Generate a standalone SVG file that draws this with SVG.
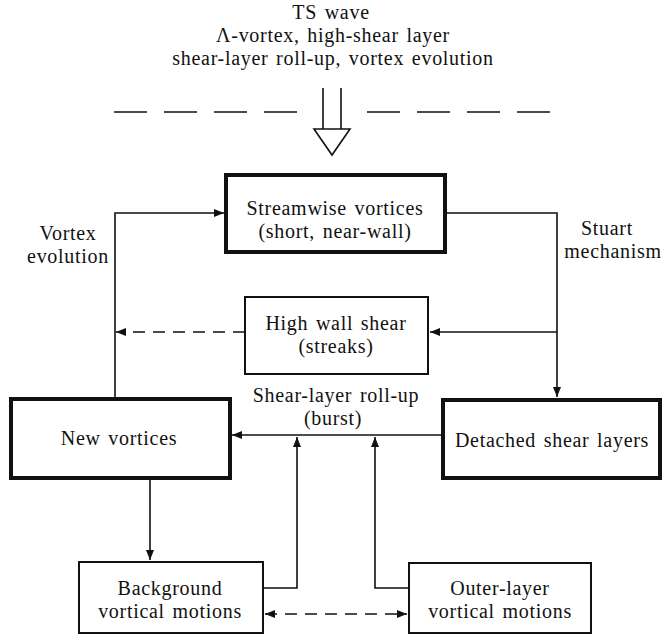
<svg xmlns="http://www.w3.org/2000/svg" width="664" height="641" viewBox="0 0 664 641">
<style>
text{font-family:"Liberation Serif","Times New Roman",serif;font-size:20px;letter-spacing:0.7px;word-spacing:2px;fill:#111;text-anchor:middle}
.box{fill:#fff;stroke:#111}
.thick{stroke-width:4}
.thin{stroke-width:2}
.ln{fill:none;stroke:#111;stroke-width:1.6}
.dash{stroke-dasharray:12 8}
</style>
<defs>
<marker id="ah" viewBox="0 0 10 8" refX="10" refY="4" markerWidth="11" markerHeight="8" markerUnits="userSpaceOnUse" orient="auto-start-reverse">
<path d="M0,0 L10,4 L0,8 z" fill="#111" stroke="none"/>
</marker>
</defs>
<g id="header">
<text x="331" y="19">TS wave</text>
<text x="333" y="42">Λ-vortex, high-shear layer</text>
<text x="333" y="65">shear-layer roll-up, vortex evolution</text>
<path d="M114,112H147M164,112H197M214,112H247M264,112H297M367,112H400M417,112H450M467,112H500M517,112H550" fill="none" stroke="#111" stroke-width="1.6"/>
<path d="M323,88V129M341,88V129" fill="none" stroke="#111" stroke-width="1.6"/>
<path d="M314,129H350L332,155Z" fill="#fff" stroke="#111" stroke-width="1.6"/>
</g>
<g id="connectors">
<path class="ln" d="M115,398V213H224" marker-end="url(#ah)"/>
<path class="ln" d="M447,213H557V397" marker-end="url(#ah)"/>
<path class="ln" d="M557,332H430" marker-end="url(#ah)"/>
<path class="ln dash" d="M245,332H116" marker-end="url(#ah)"/>
<path class="ln" d="M441,435H232" marker-end="url(#ah)"/>
<path class="ln" d="M150,480V560" marker-end="url(#ah)"/>
<path class="ln" d="M263,588H297V437" marker-end="url(#ah)"/>
<path class="ln" d="M409,588H375V437" marker-end="url(#ah)"/>
<path class="ln dash" d="M265,614H407" marker-start="url(#ah)" marker-end="url(#ah)"/>
</g>
<g id="labels">
<text x="68" y="240">Vortex</text>
<text x="68" y="263">evolution</text>
<text x="607" y="235">Stuart</text>
<text x="613" y="258">mechanism</text>
<text x="336" y="402">Shear-layer roll-up</text>
<text x="333" y="425">(burst)</text>
</g>
<g id="streamwise">
<rect class="box thick" x="226" y="175" width="219" height="77"/>
<text x="335" y="215">Streamwise vortices</text>
<text x="335" y="238">(short, near-wall)</text>
</g>
<g id="highwall">
<rect class="box thin" x="245" y="297" width="183" height="77"/>
<text x="336" y="330">High wall shear</text>
<text x="336" y="353">(streaks)</text>
</g>
<g id="newvortices">
<rect class="box thick" x="11" y="399" width="219" height="79"/>
<text x="119" y="445">New vortices</text>
</g>
<g id="detached">
<rect class="box thick" x="443" y="400" width="217" height="78"/>
<text x="552" y="447">Detached shear layers</text>
</g>
<g id="background">
<rect class="box thin" x="79" y="562" width="184" height="71"/>
<text x="170" y="595">Background</text>
<text x="170" y="618">vortical motions</text>
</g>
<g id="outer">
<rect class="box thin" x="409" y="563" width="182" height="70"/>
<text x="500" y="595">Outer-layer</text>
<text x="500" y="618">vortical motions</text>
</g>
</svg>
